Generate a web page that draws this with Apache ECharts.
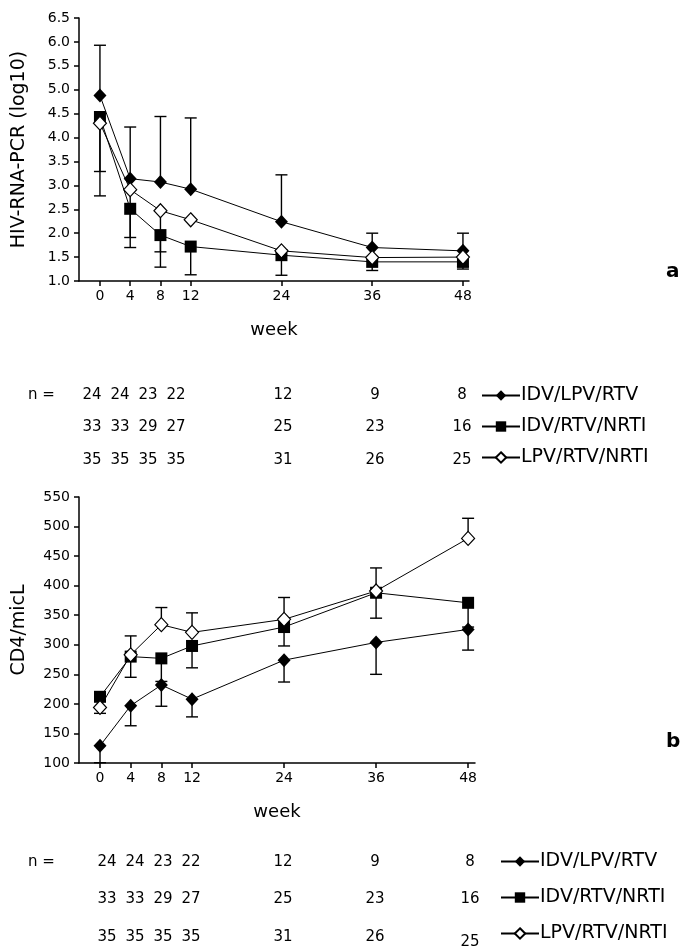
<!DOCTYPE html>
<html>
<head>
<meta charset="utf-8">
<script src="https://cdn.jsdelivr.net/npm/echarts/dist/echarts.min.js"></script>
<style>
  body { margin: 0; background: #fff; }
  #main { width: 681px; height: 948px; }
</style>
</head>
<body>
<div id="main"></div>
<script>
// weeks on study
var weeks = [0, 4, 8, 12, 24, 36, 48];
var names = ['IDV/LPV/RTV', 'IDV/RTV/NRTI', 'LPV/RTV/NRTI'];

// panel a: HIV-RNA (log10)
var rnaIdvLpv = [4.88, 3.14, 3.07, 2.92, 2.24, 1.70, 1.63];
var rnaIdvNrti = [4.43, 2.51, 1.96, 1.72, 1.54, 1.40, 1.40];
var rnaLpvNrti = [4.30, 2.91, 2.47, 2.28, 1.63, 1.49, 1.50];
// error bar ends
var rnaIdvLpvHigh = [5.93, 4.22, 4.44, 4.41, 3.22, 2.00, 2.00];
var rnaIdvNrtiLow = [3.29, 1.91, 1.61, 1.13, 1.12, 1.22, 1.25];
var rnaLpvNrtiLow = [2.78, 1.70, 1.29, null, null, null, 1.30];

// panel b: CD4/micL
var cd4IdvLpv = [129, 197, 232, 208, 274, 304, 326];
var cd4IdvNrti = [212, 280, 277, 298, 330, 388, 371];
var cd4LpvNrti = [194, 283, 334, 321, 343, 391, 480];
var cd4IdvLpvLow = [100.5, 163, 196, 178, 237, 250, 291];
var cd4IdvNrtiLow = [null, 245, 238, 261, 298, 345, 330];
var cd4LpvNrtiHigh = [null, 315, 363, 354, 380, 430, 514];
var cd4LpvNrtiLow = [184, null, null, null, null, null, null];

// patients per visit
var nIdvLpv = [24, 24, 23, 22, 12, 9, 8];
var nIdvNrti = [33, 33, 29, 27, 25, 23, 16];
var nLpvNrti = [35, 35, 35, 35, 31, 26, 25];

var font = 'DejaVu Sans';

function pairs(vals) {
    return weeks.map(function (w, i) { return [w, vals[i]]; });
}
function errData(vals, ends) {
    var out = [];
    weeks.forEach(function (w, i) {
        if (ends[i] != null) out.push([w, vals[i], ends[i]]);
    });
    return out;
}
function renderErr(params, api) {
    var p0 = api.coord([api.value(0), api.value(1)]);
    var p1 = api.coord([api.value(0), api.value(2)]);
    var st = { stroke: '#000', lineWidth: 1.4 };
    return {
        type: 'group',
        children: [
            { type: 'line', shape: { x1: p0[0], y1: p0[1], x2: p1[0], y2: p1[1] }, style: st },
            { type: 'line', shape: { x1: p1[0] - 6, y1: p1[1], x2: p1[0] + 6, y2: p1[1] }, style: st }
        ]
    };
}
function errSeries(g, vals, ends) {
    return {
        type: 'custom', xAxisIndex: g, yAxisIndex: g, z: 1,
        renderItem: renderErr, encode: { x: 0, y: [1, 2] },
        data: errData(vals, ends), silent: true
    };
}
var styles = [
    { symbol: 'diamond', symbolSize: [13, 14], itemStyle: { color: '#000' } },
    { symbol: 'rect', symbolSize: 12, itemStyle: { color: '#000' } },
    { symbol: 'diamond', symbolSize: [13, 14], itemStyle: { color: '#fff', borderColor: '#000', borderWidth: 1.2 } }
];
function lineSeries(g, k, vals) {
    return {
        name: names[k], type: 'line', xAxisIndex: g, yAxisIndex: g, z: 3,
        symbol: styles[k].symbol, symbolSize: styles[k].symbolSize,
        itemStyle: styles[k].itemStyle,
        lineStyle: { color: '#000', width: 1 },
        data: pairs(vals)
    };
}
function xAxisOf(g, min, max) {
    return {
        gridIndex: g, type: 'value', min: min, max: max,
        axisLine: { onZero: false, lineStyle: { color: '#000', width: 1.5 } },
        axisTick: { customValues: weeks, length: 5, lineStyle: { color: '#000', width: 1.5 } },
        axisLabel: { customValues: weeks, color: '#000', fontSize: 14, fontFamily: font, margin: 8 },
        splitLine: { show: false },
        name: 'week', nameLocation: 'middle', nameGap: 40,
        nameTextStyle: { color: '#000', fontSize: 18, fontFamily: font }
    };
}
function yAxisOf(g, min, max, step, title, dec) {
    return {
        gridIndex: g, type: 'value', min: min, max: max, interval: step,
        axisLine: { show: true, onZero: false, lineStyle: { color: '#000', width: 1.5 } },
        axisTick: { show: true, length: 5, lineStyle: { color: '#000', width: 1.5 } },
        axisLabel: {
            color: '#000', fontSize: 14, fontFamily: font, margin: 9,
            formatter: function (v) { return v.toFixed(dec); }
        },
        splitLine: { show: false },
        name: title, nameLocation: 'middle', nameGap: 50,
        nameTextStyle: { color: '#000', fontSize: 19, fontFamily: font }
    };
}

// n = tables
var colsTop = [92, 120, 148, 176, 283, 375, 462];
var colsBot = [107, 135, 163, 191, 283, 375, 470];
function table(cols, rowsY, lastShift) {
    var f = '15px ' + font;
    var els = [{ type: 'text', x: 28, y: rowsY[0], style: { text: 'n =', font: f, fill: '#000', textVerticalAlign: 'middle' } }];
    [nIdvLpv, nIdvNrti, nLpvNrti].forEach(function (row, r) {
        row.forEach(function (v, i) {
            els.push({
                type: 'text', x: cols[i], y: rowsY[r] + (i === 6 && r === 2 ? lastShift : 0),
                style: { text: String(v), font: f, fill: '#000', textAlign: 'center', textVerticalAlign: 'middle' }
            });
        });
    });
    return els;
}
function legendAt(left, top, gap) {
    return {
        data: names, orient: 'vertical', left: left, top: top, itemGap: gap, padding: 0,
        itemWidth: 38, itemHeight: 13, selectedMode: false,
        textStyle: { color: '#000', fontSize: 19, fontFamily: font, padding: [0, 0, 0, -4] }
    };
}

var myChart = echarts.init(document.getElementById('main'));
var option = {
    animation: false,
    backgroundColor: '#fff',
    grid: [
        { left: 79, top: 18, width: 390, height: 263 },
        { left: 79, top: 497, width: 396, height: 266 }
    ],
    xAxis: [xAxisOf(0, -2.77, 48.8), xAxisOf(1, -2.74, 48.9)],
    yAxis: [
        yAxisOf(0, 1, 6.5, 0.5, 'HIV-RNA-PCR (log10)', 1),
        yAxisOf(1, 100, 550, 50, 'CD4/micL', 0)
    ],
    legend: [legendAt(481, 386, 12), legendAt(500, 852, 17)],
    graphic: [].concat(
        table(colsTop, [395, 427, 460], 0),
        table(colsBot, [862, 899, 937], 5),
        [
            { type: 'text', x: 666, y: 272, style: { text: 'a', font: 'bold 20px ' + font, fill: '#000', textVerticalAlign: 'middle' } },
            { type: 'text', x: 666, y: 742, style: { text: 'b', font: 'bold 20px ' + font, fill: '#000', textVerticalAlign: 'middle' } }
        ]
    ),
    series: [
        errSeries(0, rnaIdvLpv, rnaIdvLpvHigh),
        errSeries(0, rnaIdvNrti, rnaIdvNrtiLow),
        errSeries(0, rnaLpvNrti, rnaLpvNrtiLow),
        lineSeries(0, 0, rnaIdvLpv),
        lineSeries(0, 1, rnaIdvNrti),
        lineSeries(0, 2, rnaLpvNrti),
        errSeries(1, cd4IdvLpv, cd4IdvLpvLow),
        errSeries(1, cd4IdvNrti, cd4IdvNrtiLow),
        errSeries(1, cd4LpvNrti, cd4LpvNrtiHigh),
        errSeries(1, cd4LpvNrti, cd4LpvNrtiLow),
        lineSeries(1, 0, cd4IdvLpv),
        lineSeries(1, 1, cd4IdvNrti),
        lineSeries(1, 2, cd4LpvNrti)
    ]
};
if (option && typeof option === "object") {
    myChart.setOption(option, true);
}
</script>
</body>
</html>
